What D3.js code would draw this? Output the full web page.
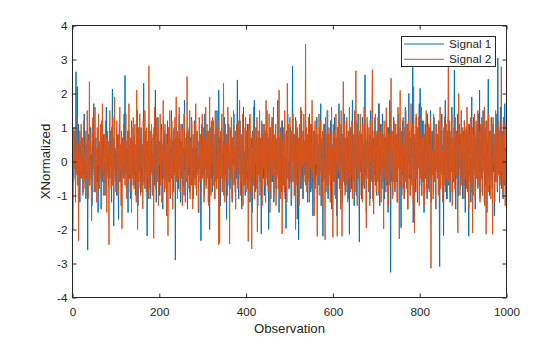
<!DOCTYPE html>
<html>
<head>
<meta charset="utf-8">
<script src="https://cdn.jsdelivr.net/npm/d3@7"></script>
<style>
  html, body { margin: 0; padding: 0; background: #fff; }
  svg { display: block; font-family: "Liberation Sans", Arial, Helvetica, sans-serif; }
  .tick text { fill: #262626; font-size: 11.7px; }
  .tick line { stroke: #262626; }
</style>
</head>
<body>
<svg id="chart" width="560" height="337"></svg>
<script>
// Normalized signals, one value per observation (1..1000)
const signal1 = [
  -2.0, 0.3, -0.5, 0.9, -0.2, 0.1, -0.8, 2.64, 0.4, -0.3, 2.2, -0.6, 0.2, 1.1, -0.1, 0.5, -1.2, 0.0, 0.6, -0.4,
  0.7, -0.2, 0.3, -0.9, 0.1, -0.4, 1.4, 0.2, -0.6, 0.0, -1.1, 0.5, 0.3, -0.3, -2.6, 0.4, 0.8, -0.1, -0.7, 0.2,
  -0.1, 1.0, -0.5, 0.2, -1.3, 0.6, 0.3, -0.2, 1.7, -0.4, 0.0, -0.9, 0.4, 0.7, -0.3, 0.1, -0.6, 0.3, -1.5, 0.5,
  -0.8, 0.2, 0.6, -0.3, 0.4, -1.4, 0.1, 1.2, -0.2, -0.6, 0.3, 0.8, -0.4, 0.0, -1.0, 0.5, -0.1, 1.6, -0.5, 0.2,
  -0.3, 0.6, -0.7, 0.4, 0.1, -0.5, 0.9, -0.1, 0.3, -1.2, 0.5, 2.13, -0.4, 0.0, -1.9, 0.7, -0.2, 0.4, -0.6, 0.2,
  0.3, -1.0, 0.8, -0.2, 0.0, -1.7, 0.4, 1.1, -0.3, 0.1, -0.6, 0.5, -1.3, 0.2, 0.7, -0.4, 0.3, -0.1, 1.4, -0.5,
  2.53, -0.3, 0.4, -0.8, 0.1, 0.6, -0.2, -1.5, 0.3, 0.9, -0.5, 0.0, 0.4, -1.1, 0.2, 1.2, -0.4, -0.1, 0.6, -0.7,
  0.2, 0.8, -0.4, 0.0, -1.0, 0.5, 0.3, -0.6, 1.5, -0.1, -1.3, 0.4, 0.1, -0.3, 0.7, -0.8, 0.2, 1.0, -0.2, -0.9,
  0.5, -0.1, 0.0, 2.3, -0.6, 0.3, -0.8, 0.4, 0.9, -0.3, 0.1, -2.19, 0.6, -0.2, 0.3, 1.1, -0.5, 0.2, -1.1, 0.6,
  -0.3, 0.4, 0.7, -0.9, 0.2, -0.4, 0.0, 1.0, -0.7, 0.3, 2.1, -0.1, -1.2, 0.5, 0.0, -0.4, 1.3, -0.6, 0.2, 0.6,
  -1.0, 0.1, 0.6, -0.2, 1.1, -0.5, 0.3, -1.4, 0.0, 0.7, -0.3, 0.9, -0.8, 0.2, 0.4, -0.1, -1.6, 0.5, 1.2, -0.4,
  0.3, -0.6, 0.8, 0.1, -1.1, 0.4, -0.2, 1.5, -0.5, 0.0, 0.6, -0.9, 0.3, 1.0, -0.3, 0.2, -2.9, 0.7, -0.5, 0.1,
  0.9, -0.4, 0.3, -0.8, 0.5, 1.4, -0.2, 0.1, -1.2, 0.6, 0.0, -0.5, 1.1, -0.7, 0.4, 0.1, -1.0, 1.8, -0.3, 0.4,
  -0.6, 0.2, 0.8, -0.1, -1.4, 0.5, 0.3, -0.4, 1.0, -0.9, 0.1, 0.7, -0.2, 1.3, -0.7, 0.4, -0.1, -1.1, 0.6, 0.2,
  1.2, -0.5, 0.0, 0.4, -0.8, 0.2, 0.9, -0.3, 0.6, -1.5, 0.1, -0.2, 0.8, 0.3, -0.6, -2.33, 0.5, 1.1, -0.4, 0.0,
  -0.4, 0.7, 0.2, -1.0, 1.4, -0.1, 0.3, -0.7, 0.1, 0.9, -0.3, 0.5, -1.2, 0.0, 0.4, -2.0, 1.0, -0.2, 0.3, -0.5,
  0.6, -0.9, 0.1, 1.2, -0.4, 0.5, -0.1, -1.1, 0.8, 0.2, -0.6, 0.4, 1.5, -0.5, 0.0, -0.8, 2.1, 0.3, -0.2, 0.7,
  -1.3, 0.4, 0.1, 1.0, -0.5, 0.2, -0.3, 0.6, -1.0, 1.3, 0.1, -0.4, 0.5, -0.1, -1.7, 0.8, 0.3, -0.7, 0.4, 1.1,
  -0.2, 0.1, -0.8, 0.6, 0.9, -0.4, 0.0, -1.2, 0.5, 0.7, -0.1, 1.4, -0.6, 0.2, -0.9, 0.5, 0.1, -0.5, 1.0, 2.4,
  -0.3, 0.4, -1.1, 0.7, 0.1, 1.2, -0.5, -0.1, 0.4, -1.4, 0.8, 0.2, -0.4, 1.6, -0.7, 0.3, 0.0, -1.0, 0.5, 0.9,
  -0.5, 0.1, 1.1, -0.8, 0.4, -0.2, 0.6, 1.3, -1.2, 0.0, -0.5, 0.7, 0.3, -1.5, 0.9, -0.1, 0.5, -0.7, 1.8, 0.2,
  -0.9, 0.5, 0.0, 1.0, -0.4, 0.3, -1.3, 0.7, 0.1, -0.3, 1.4, -0.6, 0.4, 0.0, -2.13, 0.8, -0.2, 0.5, 1.1, -0.5,
  0.2, -1.0, 0.6, 0.9, -0.4, 0.1, -0.1, 1.5, -0.7, 0.4, 0.7, -2.0, 0.3, -0.3, 1.0, 0.0, -1.1, 0.5, -0.1, 1.3,
  -0.6, 0.2, 0.8, -1.2, 0.4, -0.2, 0.1, 1.1, -0.8, 0.6, -0.4, 0.0, 1.8, -0.5, 0.3, -1.5, 0.7, 0.0, -0.3, 1.0,
  0.4, -0.9, 0.5, 1.2, -0.1, 0.2, -0.7, 0.8, 0.5, -1.1, 0.1, -1.97, 0.9, -0.4, 0.6, 1.4, -0.5, 0.0, -0.8, 0.3,
  -0.2, 1.0, 0.0, -1.3, 0.7, 0.4, 2.81, -0.6, 0.1, 0.8, -0.3, 0.5, -1.0, 1.3, 0.2, -0.5, 0.9, -1.7, 0.3, 0.6,
  -2.3, 0.5, 1.1, -0.1, 0.0, -0.8, 0.7, 1.5, -0.5, 0.3, -1.1, 0.9, 0.1, -0.4, 0.6, -0.1, 1.2, -0.7, 0.4, 0.0,
  0.8, -1.2, 0.2, 0.5, -0.5, 1.4, -0.1, 0.4, -0.9, 0.7, 1.1, -0.6, 0.0, -1.6, 0.5, 0.3, -0.2, 0.9, -0.8, 0.1,
  0.6, -0.4, 1.3, 0.0, -1.0, 0.5, 0.2, -0.7, 1.0, -0.3, 0.4, 1.7, -1.3, 0.1, 0.7, -0.1, -2.2, 0.8, 0.3, -0.5,
  1.1, -0.2, 0.4, -0.9, 0.6, 0.0, 1.5, -0.5, -1.1, 0.3, 0.8, -0.1, 0.5, -0.7, 1.2, 0.1, -1.4, 0.5, 0.2, -0.4,
  0.9, -0.6, 0.1, 1.3, -1.0, 0.3, 0.7, -0.2, -1.6, 0.5, 1.0, 0.0, -0.5, 1.7, -0.3, 0.4, -0.8, 0.6, 1.1, -0.1,
  0.2, -1.2, 0.8, 0.5, -0.4, 1.4, -0.7, 0.0, 0.5, -0.9, 1.2, 0.1, -0.5, 0.7, -1.1, 0.3, 0.9, -2.14, 0.4, 0.6,
  -0.3, 1.0, -0.8, 0.2, 1.8, -0.5, 0.4, 0.0, -1.3, 0.8, 0.5, -0.2, 1.2, -1.0, 0.1, 0.6, -0.5, 1.4, -0.1, -0.7,
  -2.37, 0.5, 0.9, -0.3, 0.2, -1.1, 0.7, 1.3, -0.6, 0.1, 0.5, -0.8, 1.0, 2.55, -0.4, 0.3, -1.5, 0.6, 0.0, 1.1,
  -0.5, 0.4, -0.9, 0.8, 0.2, -1.1, 1.5, -0.1, 0.5, -0.6, 1.0, 0.0, -1.2, 0.7, 0.3, -0.4, 1.3, -0.7, 0.1, 0.6,
  -1.0, 0.9, 0.2, -0.5, 1.7, -0.1, 0.4, -1.3, 0.6, 1.1, -0.3, 0.1, -0.8, 1.4, 0.5, -0.6, 0.0, 0.8, -1.1, 0.3,
  0.7, -0.2, 1.2, -0.7, 0.1, 0.5, -1.5, 1.0, 0.3, -0.4, 1.8, -0.1, -3.26, 0.5, 0.9, -0.6, 0.2, -1.0, 0.6, 1.3,
  -0.3, 0.0, -0.9, 1.1, 0.5, -0.6, 0.8, 0.1, -1.2, 0.7, 1.4, -0.2, 0.4, -0.7, 1.0, 0.0, -1.95, 0.6, 0.2, -0.4,
  1.2, -0.8, 0.5, 0.1, -1.1, 0.9, 1.6, -0.3, 0.3, -0.6, 1.1, -1.4, 0.5, 0.0, 2.0, -0.5, 0.4, -1.0, 0.7, 0.2,
  -0.6, 1.0, 0.1, 2.77, -1.8, 0.4, 0.8, -0.2, 0.6, -0.9, 0.3, 1.3, -0.5, 0.0, -1.2, 0.9, 0.5, -0.1, 1.7, -0.7,
  2.15, -0.4, 0.2, -1.0, 0.7, 1.2, -0.6, 0.1, 0.5, -1.5, 0.8, -0.1, 1.1, -0.5, 0.3, 0.6, -1.1, 1.4, -0.3, 0.4,
  -0.8, 1.0, 0.0, -0.5, 1.5, 0.2, -1.2, 0.7, -0.1, 0.9, 0.4, -0.9, 1.3, -0.6, 0.3, 0.0, -1.4, 1.1, 0.5, -0.2,
  0.8, -0.5, 0.5, 1.2, -1.0, -3.09, 0.6, 0.9, -0.3, 0.2, 1.4, -0.7, 0.1, 0.5, -2.18, 1.0, -0.4, 0.4, 1.8, -0.8,
  0.3, -1.1, 0.9, 0.1, -0.5, 1.3, -0.7, 0.5, 1.1, -1.2, 0.0, 0.7, -0.3, 1.6, -0.9, 0.4, 0.2, -0.6, 1.0, 2.69,
  -0.4, 0.6, -1.4, 0.8, 0.2, -0.5, 1.4, 0.0, -1.0, 0.5, 1.1, -0.2, 0.7, -0.8, 0.1, 1.5, -0.5, 0.3, -1.1, 0.9,
  0.5, -0.7, 1.2, 0.0, -1.5, 0.6, 1.0, -0.3, 0.2, 0.8, -0.9, 0.4, -2.2, 1.1, 0.5, -0.4, 0.1, -1.2, 0.9, 1.9,
  -0.6, 0.3, -1.0, 1.3, 0.1, -0.2, 0.8, -1.4, 0.5, 0.7, -0.5, 1.1, 0.0, -0.8, 0.5, 1.4, -0.3, 2.1, -1.1, 0.2,
  0.6, -0.5, 1.0, -0.9, 0.3, 1.5, -0.1, 0.4, -1.2, 0.8, 0.1, -0.7, 1.2, 0.5, -1.5, 0.2, 0.7, 2.42, -0.4, 0.0,
  -1.0, 0.9, 0.3, -0.5, 1.3, 0.0, -0.8, 0.6, 1.1, -0.3, 0.5, -1.6, 0.8, 0.1, -0.6, 1.4, -0.2, 0.5, -0.9, 3.04,
  -0.4, 1.0, 0.2, -1.2, 0.7, 1.6, -0.5, 0.3, -0.8, 0.9, 0.0, -1.1, 1.3, 0.5, -0.7, 1.7, -0.1, 0.4, -0.9, 1.9
];

const signal2 = [
  0.4, -0.6, 1.0, -0.2, 0.1, 0.8, -1.2, 0.5, 0.1, -0.4, 1.3, -0.7, 0.2, -2.33, 0.6, -0.1, 0.9, -0.5, 0.3, 1.1,
  -0.5, 0.1, 0.7, -1.0, 0.4, 1.2, -0.3, 0.0, -0.8, 0.5, 0.9, -0.5, 0.2, 1.5, -0.1, -1.1, 0.6, 0.3, 2.35, -0.7,
  0.4, 0.8, -0.4, -1.75, 0.1, 0.7, 1.3, -0.2, 0.3, -0.9, 0.5, 1.6, -0.6, 0.0, 0.4, -1.2, 1.0, -0.1, 0.5, 1.4,
  -0.8, 0.2, 0.6, -0.5, 1.1, 0.0, -1.3, 0.5, 1.7, -0.3, 0.1, -1.0, 0.8, 0.4, -0.6, 1.2, -0.1, 0.7, -1.5, 0.3,
  0.9, -0.4, 0.5, -2.45, 0.6, 1.5, -0.1, 0.2, -0.8, 1.0, 0.0, -0.7, 1.3, 0.3, -1.1, 0.7, 1.9, -0.5, 0.1, -0.9,
  0.5, 1.2, -0.2, 0.4, -1.0, 0.8, 0.0, -0.6, 1.6, -0.3, 0.5, -1.3, 0.9, -1.98, 0.2, 0.7, -0.5, 1.1, -0.1, 0.6,
  -0.7, 0.3, 1.4, -0.1, -1.1, 0.5, 0.9, -0.6, 0.1, 1.7, -0.4, 0.5, -0.9, 0.7, 0.2, -1.5, 1.0, 0.0, -0.5, 1.3,
  0.3, -0.8, 0.6, 1.1, -0.3, 0.0, -1.2, 2.1, 0.4, -2.0, 0.7, 1.0, -0.6, 0.2, 1.4, -0.4, -1.0, 0.5, 0.8, -0.2,
  0.5, -1.4, 1.2, 0.1, -0.7, 0.7, 1.5, -0.3, 0.0, -0.9, 1.0, 0.4, -0.5, 0.6, -1.1, 2.81, 0.2, -0.8, 0.9, 0.0,
  -0.4, 1.1, 0.5, -1.0, 0.3, 0.8, -2.26, 0.5, 1.6, -0.2, 0.1, -0.8, 1.3, 0.7, -0.6, 0.0, 1.0, -1.3, 0.4, 0.6,
  -0.1, 1.4, -0.7, 0.2, 0.9, -1.2, 0.5, 0.0, 1.8, -0.5, 0.3, -0.9, 1.1, 0.6, -0.3, 0.8, -1.6, 0.1, 0.5, -2.18,
  1.0, 0.1, -0.6, 1.5, 0.4, -1.0, 0.7, -0.2, 1.2, 0.2, -1.4, 0.6, 0.9, -0.4, 0.0, 1.3, -0.8, 0.5, 1.9, -0.6,
  0.3, -1.1, 0.8, 0.5, -0.5, 1.6, 0.1, -0.9, 0.7, 1.1, -0.3, 0.4, -1.3, 1.0, 0.0, -0.7, 1.4, 0.6, -0.1, -1.2,
  0.7, 0.2, -0.6, 2.5, 0.5, -0.8, 0.9, -0.2, 0.3, 1.5, -1.1, 0.1, 0.6, -0.5, 1.2, 0.0, -1.4, 0.8, 0.4, -0.3,
  1.1, -0.7, 0.5, 1.7, -0.1, -1.0, 0.6, 0.9, -0.4, 0.2, -1.5, 1.3, 0.3, -0.6, 0.8, 0.5, -0.9, 0.0, 1.4, -0.5,
  0.4, 1.0, -1.2, 0.1, 0.7, -0.2, 1.6, -0.8, 0.5, 1.1, -0.5, 0.0, 0.9, -1.3, 0.3, 1.9, -0.4, 0.6, -1.0, 1.2,
  -0.1, 0.5, 1.3, -0.7, 0.2, 0.8, -1.1, 0.5, 1.5, -0.3, 0.1, -0.8, 1.0, 0.7, -0.5, 1.2, -2.45, 0.4, -2.4, 0.6,
  0.9, -0.5, 0.3, 1.4, -0.9, 0.1, 0.7, 2.3, -0.4, 0.5, -1.2, 1.1, 0.0, -0.6, 0.8, 0.3, -1.0, 1.6, -0.2, 0.5,
  0.2, -2.43, 1.0, 0.6, -0.5, 1.3, -0.1, -1.1, 0.7, 0.1, 1.5, -0.7, 0.4, -0.3, 0.9, -1.4, 0.5, 1.1, -0.2, 0.3,
  -0.8, 1.2, 0.5, -0.4, 1.8, 0.0, -1.0, 0.6, 0.8, -0.6, 0.2, 1.4, -1.3, 0.4, 1.0, -0.2, -0.7, 0.5, 1.3, -0.9,
  0.5, 0.9, -0.3, 0.1, -2.35, 1.1, 0.7, -0.6, 1.4, 0.0, -0.9, 0.4, -2.57, 0.8, 0.3, -0.5, 1.6, 0.2, -1.1, 0.5,
  1.0, -0.1, 0.6, -0.8, 1.3, -2.07, 0.5, 0.9, -0.4, 0.2, 1.5, -1.0, 0.7, 0.0, -0.6, 1.2, -1.3, 0.4, 0.8, -0.2,
  0.5, 1.1, -0.7, 0.3, -1.2, 1.8, 0.1, -0.5, 0.8, 0.6, -0.9, 0.4, 1.4, -0.2, -1.5, 1.0, 0.0, 0.7, -0.6, 1.2,
  -0.4, 0.5, 1.6, -1.0, 0.2, 0.8, -0.6, 1.1, -1.3, 0.3, 0.7, -0.1, 1.3, -0.8, 0.5, 2.1, -0.3, 0.1, -1.1, 0.9,
  0.4, 1.2, -2.13, 0.6, -0.2, 1.0, 0.0, -0.9, 1.5, 0.3, -0.7, 0.8, 0.5, -1.2, 2.3, -0.5, 0.7, 1.1, -0.8, 0.1,
  1.3, -0.6, 0.2, 0.9, -1.1, 0.6, 0.0, 1.4, -0.4, 0.5, -1.0, 0.8, 0.3, -2.0, 1.2, 0.5, -0.7, 1.0, 0.1, -0.3,
  0.7, -1.3, 1.1, 0.4, -0.5, 1.6, -0.8, 0.2, 0.9, -0.1, 0.5, -1.1, 1.4, 0.0, 0.6, -0.6, 3.45, -0.4, 1.0, -0.9,
  0.3, 0.8, -0.6, 1.3, 0.1, -1.2, 0.7, 1.1, -0.2, 0.5, -0.8, 1.8, 0.0, -0.5, 0.9, 0.4, -1.6, 0.6, 1.2, -0.1,
  0.5, 1.0, -0.7, -2.2, 0.8, 0.2, -0.4, 1.4, 0.5, -1.0, 0.7, 1.2, -0.3, 0.1, -1.3, 0.9, 0.5, -0.6, 1.1, 0.0,
  -0.5, -2.3, 1.3, 0.3, 0.8, -0.7, 0.6, 1.5, -0.9, 0.2, 1.0, -0.4, 0.5, -1.2, 0.8, 0.1, 1.6, -0.6, 0.4, -2.23,
  1.1, 0.3, -0.6, 0.9, 0.5, -1.1, 1.4, 0.0, 0.7, -2.2, 1.0, -0.3, 0.4, 1.2, -0.8, 0.6, 0.1, -1.4, 1.5, 0.2,
  -2.2, 0.8, 0.5, 2.35, -0.6, 0.3, 1.1, -1.0, 0.7, 0.0, -0.7, 1.3, 0.5, -1.2, 0.9, 0.2, -0.5, 1.6, 0.4, -0.9,
  1.0, -0.4, 0.6, 1.2, -1.1, 0.1, 0.8, -0.6, 0.5, 1.5, -0.9, 0.3, 2.67, -0.2, 0.7, -1.3, 1.1, 0.0, -0.5, 0.9,
  0.4, -1.0, 1.4, 0.2, -0.3, 0.8, 0.5, -1.2, 1.1, 0.1, -0.7, 1.6, 0.5, -0.5, 0.9, 0.3, -1.96, 0.7, 1.3, -0.2,
  0.6, -0.8, 1.0, 0.3, -1.3, 1.2, 0.0, 0.7, -0.5, 1.5, 2.7, -1.1, 0.4, -1.55, 0.9, 0.2, -0.6, 1.4, 0.5, -0.9,
  0.8, 0.3, -0.6, 1.3, 0.5, -1.0, 1.7, 0.1, -0.4, 0.9, -1.2, 0.5, 1.1, -0.2, 0.7, -0.8, -1.98, 1.2, 0.4, -0.5,
  0.6, -0.9, 1.58, 0.2, -0.6, 1.0, 0.5, -1.3, 0.8, 0.0, -0.7, 1.5, 0.3, 2.45, -0.3, 0.7, -1.1, 0.9, 0.4, -0.6,
  1.2, 0.1, -0.8, 0.5, 1.1, -0.5, 0.8, -1.2, 0.4, 1.6, -0.2, 0.6, -2.28, 1.0, 2.09, -0.7, 0.3, 0.9, -1.0, 0.5,
  -0.3, 1.3, 0.7, -1.1, 0.2, 1.0, -0.6, 1.5, 0.5, -0.8, 0.8, 0.0, -1.4, 1.2, 0.5, -0.4, 0.9, 0.3, -1.0, 1.7,
  0.1, -0.7, 1.1, 0.6, -1.2, 2.2, 0.4, -2.1, 0.8, 0.5, -0.5, 1.4, 0.2, -0.9, 1.0, 0.7, -0.2, 1.3, -1.3, 0.5,
  0.9, -0.5, 0.3, 1.6, -1.0, 0.7, 0.1, -0.6, 1.2, 0.5, -1.3, 0.8, 0.2, -0.3, 1.5, -0.8, 0.6, 1.0, -0.5, 0.4,
  1.1, -0.9, 0.5, 0.1, 1.3, -3.14, 0.7, 0.9, -0.4, 0.3, -1.1, 1.4, 0.5, -0.6, 0.8, 0.2, -1.4, 1.1, 0.6, -0.3,
  0.8, 0.4, -1.0, 1.2, 0.1, -0.5, 1.6, -0.8, 0.5, 1.0, -0.4, 0.3, -1.2, 0.9, 0.7, -0.7, 1.3, 0.0, -0.9, 0.6,
  1.1, -0.5, 0.4, -1.1, 0.8, 2.81, -0.6, 0.5, 1.2, -0.9, 0.2, 0.9, -0.3, 1.4, -1.3, 0.5, 0.7, -0.5, 1.0, 0.1,
  -0.8, 1.3, 0.3, -0.4, 0.9, 0.6, -1.2, -2.1, 1.1, 2.0, -0.2, 0.5, -1.0, 0.8, 0.4, 1.5, -0.7, 0.2, 1.0, -0.5,
  0.7, -1.1, 1.2, 0.1, -0.5, 0.9, 0.5, -0.8, 1.6, 0.3, -0.3, 1.1, -1.4, 0.5, 0.8, -0.6, 0.4, 1.3, -0.9, 0.2,
  1.0, -2.1, 0.6, 0.8, -0.4, 1.4, 0.2, -1.1, 0.7, 1.2, -0.5, 0.4, -0.8, 1.5, 0.1, -0.7, 0.9, 0.5, -1.2, 1.1,
  0.3, -0.5, 1.3, 0.7, -1.0, 0.8, 0.5, -0.3, 1.6, -1.3, 0.1, 1.0, -2.14, 0.6, 1.2, -0.5, 0.2, -0.9, 1.4, 0.4,
  -0.7, 0.9, 0.5, -1.1, 1.1, 0.3, -0.5, -2.14, 1.3, 0.7, -0.1, 0.8, -1.2, 0.5, 1.5, -0.6, 0.2, 1.0, -0.8, 0.4,
  1.2, -0.4, 0.6, -1.0, 0.9, 0.2, -0.7, 2.79, -0.3, 0.8, -0.9, 0.5, 1.3, -0.6, 0.1, 1.1, -1.3, 0.3, -0.5, -1.0
];

const seriesNames = ["Signal 1", "Signal 2"];
const seriesColors = ["#0072BD", "#D95319"];
const xTicks = [0, 200, 400, 600, 800, 1000];
const yTicks = [-4, -3, -2, -1, 0, 1, 2, 3, 4];
const xLabel = "Observation";
const yLabel = "XNormalized";

const svg = d3.select("#chart");
const plotLeft = 72.5, plotRight = 506.5, plotTop = 25.5, plotBottom = 297.5;
const ink = "#262626";
const plain = d => String(d);

const x = d3.scaleLinear().domain([0, 1000]).range([plotLeft, plotRight]);
const y = d3.scaleLinear().domain([-4, 4]).range([plotBottom, plotTop]);

// signal traces, Signal 2 drawn over Signal 1
const line = d3.line().x((d, i) => x(i + 1)).y(d => y(d));
const plot = svg.append("g");
[signal1, signal2].forEach((s, k) => {
  plot.append("path")
    .datum(s)
    .attr("fill", "none")
    .attr("stroke", seriesColors[k])
    .attr("stroke-width", 1)
    .attr("d", line);
});

// axes with inward ticks on all four sides
const tickLen = 4;
const gB = svg.append("g").attr("transform", `translate(0,${plotBottom})`)
  .call(d3.axisBottom(x).tickValues(xTicks).tickFormat(plain).tickSizeInner(-tickLen).tickSizeOuter(0).tickPadding(10));
const gT = svg.append("g").attr("transform", `translate(0,${plotTop})`)
  .call(d3.axisTop(x).tickValues(xTicks).tickSizeInner(-tickLen).tickSizeOuter(0).tickFormat(""));
const gL = svg.append("g").attr("transform", `translate(${plotLeft},0)`)
  .call(d3.axisLeft(y).tickValues(yTicks).tickFormat(plain).tickSizeInner(-tickLen).tickSizeOuter(0).tickPadding(5));
const gR = svg.append("g").attr("transform", `translate(${plotRight},0)`)
  .call(d3.axisRight(y).tickValues(yTicks).tickSizeInner(-tickLen).tickSizeOuter(0).tickFormat(""));
[gB, gT, gL, gR].forEach(g => {
  g.select(".domain").remove();
  g.attr("font-family", null).attr("font-size", null);
});

svg.append("rect")
  .attr("x", plotLeft).attr("y", plotTop)
  .attr("width", plotRight - plotLeft).attr("height", plotBottom - plotTop)
  .attr("fill", "none").attr("stroke", ink).attr("stroke-width", 1);

// axis titles
svg.append("text")
  .attr("x", (plotLeft + plotRight) / 2).attr("y", 333)
  .attr("text-anchor", "middle")
  .attr("fill", ink).attr("font-size", "13.2px")
  .text(xLabel);
svg.append("text")
  .attr("transform", `translate(49.5,${(plotTop + plotBottom) / 2}) rotate(-90)`)
  .attr("text-anchor", "middle")
  .attr("fill", ink).attr("font-size", "13.2px")
  .text(yLabel);

// legend
const lg = svg.append("g");
lg.append("rect")
  .attr("x", 401.5).attr("y", 36.5).attr("width", 94).attr("height", 30)
  .attr("fill", "#fff").attr("stroke", ink).attr("stroke-width", 1);
seriesNames.forEach((name, k) => {
  const cy = 44 + k * 15.3;
  lg.append("line")
    .attr("x1", 404).attr("x2", 444).attr("y1", cy).attr("y2", cy)
    .attr("stroke", seriesColors[k]).attr("stroke-width", 1);
  lg.append("text")
    .attr("x", 449).attr("y", cy).attr("dy", "0.35em")
    .attr("fill", ink).attr("font-size", "11.7px")
    .text(name);
});
</script>
</body>
</html>
